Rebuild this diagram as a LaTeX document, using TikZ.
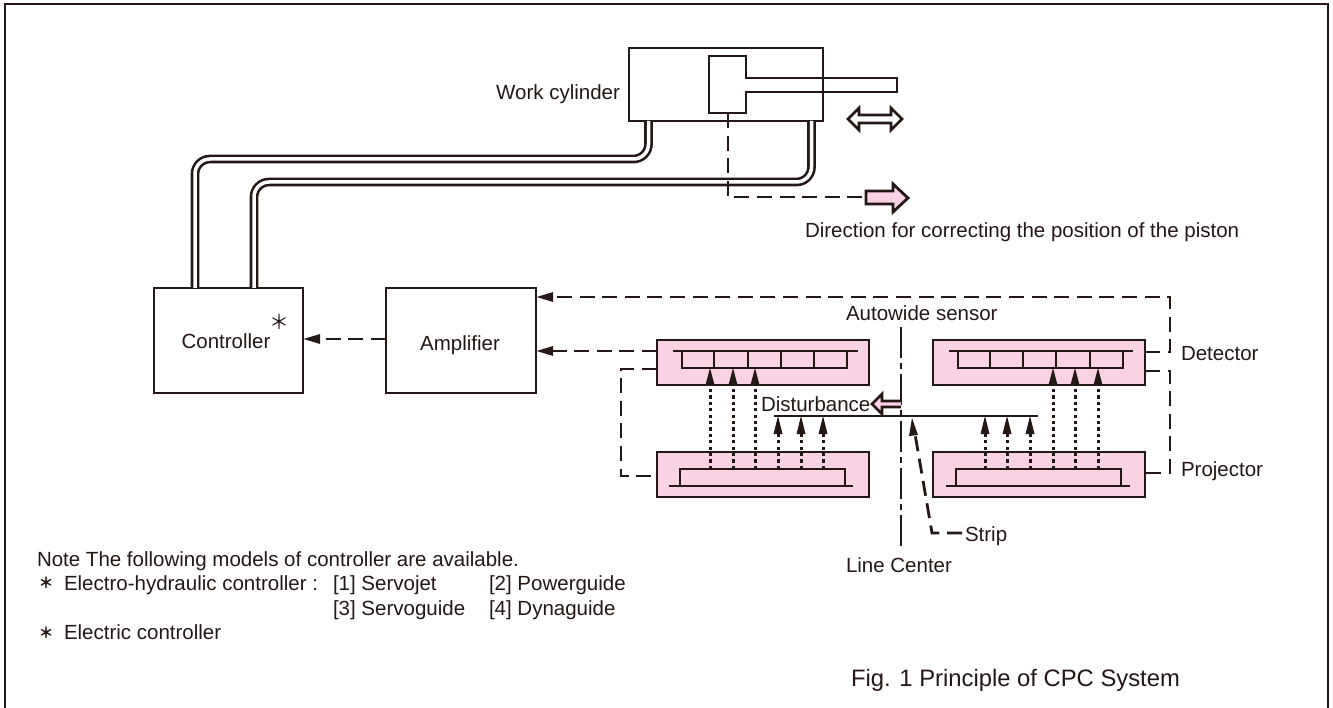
\documentclass[tikz,border=0pt]{standalone}
\usepackage{fontspec}
\setmainfont{Liberation Sans}
\newfontfamily\cjkstar{Noto Sans CJK JP}
\usetikzlibrary{arrows.meta}
\definecolor{ink}{HTML}{231815}
\definecolor{pinkf}{HTML}{F9D3E4}
\tikzset{
  every node/.style={text=ink,inner sep=0pt,outer sep=0pt},
  txt/.style={font=\fontsize{20.5}{24}\selectfont,anchor=west},
  capt/.style={font=\fontsize{23.8}{28}\selectfont,anchor=west},
  wbox/.style={draw=ink,line width=2.8pt,anchor=north west,fill=white},
  pbox/.style={draw=ink,line width=2.8pt,anchor=north west,fill=pinkf},
  bar/.style={draw=ink,line width=2.6pt,anchor=north west},
  ln/.style={draw=ink,line width=2.8pt},
  thin2/.style={draw=ink,line width=2.2pt},
  dsh/.style={draw=ink,line width=2.8pt,dash pattern=on 15pt off 7.6pt},
  tipd/.style={-{Triangle[length=17pt,width=9pt,color=ink]}},
  dots/.style={draw=ink,line width=3pt,dash pattern=on 3.2pt off 3.2pt},
  pipe/.style={draw=ink,line width=2.6pt,double=white,double distance=3.5pt,rounded corners=15pt},
  blockarrow/.style={draw=ink,line width=2.8pt,line join=miter},
  starb/.style={font=\cjkstar\fontsize{20}{20}\selectfont},
  stars/.style={font=\cjkstar\bfseries\fontsize{15}{15}\selectfont},
}
\begin{document}
\begin{tikzpicture}[x=1pt,y=-1pt]
\useasboundingbox (0,0) rectangle (1333,708);
\draw[ink,line width=1.5pt] (5,708) -- (5,4) -- (1328,4) -- (1328,708);
% cylinder
\node[wbox,minimum width=194pt,minimum height=73pt] (cyl) at (629,48) {};
\node[wbox,minimum width=149pt,minimum height=105pt] (ctrl) at (154,288) {};
\node[wbox,minimum width=150pt,minimum height=105pt] (amp) at (386,288) {};
\node[txt,anchor=center] (ctrlt) at (226,341) {Controller};
\node[txt,anchor=center] (ampt) at (460,345) {Amplifier};
\node[starb] (star) at (279,322) {＊};
% pipes
\coordinate (p1a) at (195,288); \coordinate (p1b) at (648.5,121);
\coordinate (p2a) at (254,288); \coordinate (p2b) at (811.5,121);
\draw[pipe] (p1a) -- (195,159) -- (648.5,159) -- (p1b);
\draw[pipe] (p2a) -- (254,182) -- (811.5,182) -- (p2b);
% piston
\draw[ln,line join=miter] (709,56) -- (746,56) -- (746,78) -- (897,78) -- (897,92) -- (746,92) -- (746,113) -- (709,113) -- cycle;
\coordinate (pist) at (728,113);
% double arrow
\draw[blockarrow,fill=white] (848,119) -- (859,108) -- (859,115) -- (891,115) -- (891,108) -- (902,119) -- (891,130) -- (891,123) -- (859,123) -- (859,130) -- cycle;
% correction arrow
\node[inner sep=0pt,minimum size=0pt] (corr) at (866,197) {};
\draw[dsh] (pist) -- (728,197) -- (corr);
\draw[blockarrow,fill=pinkf] (866,191) -- (893,191) -- (893,184) -- (908,198) -- (893,212) -- (893,204) -- (866,204) -- cycle;
\node[txt] (dirt) at (805,232) {Direction for correcting the position of the piston};
\node[txt,anchor=east] (workt) at (620,94) {Work cylinder};
% sensor boxes
\node[pbox,minimum width=212pt,minimum height=45pt] (dL) at (657,340) {};
\node[pbox,minimum width=212pt,minimum height=45pt] (dR) at (933,340) {};
\node[pbox,minimum width=212pt,minimum height=45pt] (pL) at (657,452) {};
\node[pbox,minimum width=212pt,minimum height=45pt] (pR) at (933,452) {};
% detector bars
\node[bar,minimum width=165pt,minimum height=17pt] (dLb) at (682,351) {};
\node[bar,minimum width=165pt,minimum height=17pt] (dRb) at (958,351) {};
\draw[thin2] (673,351) -- (858,351);
\draw[thin2] (949,351) -- (1133,351);
\foreach \x in {714,748,781,814} \draw[thin2] (\x,351) -- (\x,368);
\foreach \x in {990,1023,1056,1090} \draw[thin2] (\x,351) -- (\x,368);
% projector bars
\node[bar,minimum width=165pt,minimum height=17pt] (pLb) at (680,469) {};
\node[bar,minimum width=165pt,minimum height=17pt] (pRb) at (956,469) {};
\draw[thin2] (669,486) -- (853,486);
\draw[thin2] (946,486) -- (1130,486);
% strip
\coordinate (sL) at (774,416); \coordinate (sR) at (1038,416);
\draw[ln] (sL) -- (sR);
% light rays
\foreach \x in {710,733,755} {
  \draw[dots] (\x,469 |- pLb.north) -- (\x,383);
  \draw[draw=none,fill=ink] (\x,368) -- (\x+4.5,385) -- (\x-4.5,385) -- cycle;
}
\foreach \x in {1053,1075,1098} {
  \draw[dots] (\x,469 |- pRb.north) -- (\x,383);
  \draw[draw=none,fill=ink] (\x,368) -- (\x+4.5,385) -- (\x-4.5,385) -- cycle;
}
\foreach \x in {778,801,823,985,1007,1030} {
  \draw[dots] (\x,469) -- (\x,432);
  \draw[draw=none,fill=ink] (\x,416) -- (\x+4.5,434) -- (\x-4.5,434) -- cycle;
}
% signal lines
\draw[dsh,tipd] (amp.west |- 0,339) -- (ctrl.east |- 0,339);
\draw[dsh,tipd] (dL.west |- 0,351) -- (amp.east |- 0,351);
\draw[dsh,tipd] (dR.east |- 0,352) -- (1170,352) -- (1170,297) -- (amp.east |- 0,297);
\draw[dsh] (dL.west |- 0,369) -- (621,369) -- (621,476) -- (pL.west |- 0,476);
\draw[dsh] (dR.east |- 0,371) -- (1170,371) -- (1170,473) -- (pR.east |- 0,473);
% center line
\coordinate (lc1) at (901,327); \coordinate (lc2) at (901,548);
\draw[ink,line width=2.6pt,dash pattern=on 31pt off 5pt on 6pt off 5pt] (lc1) -- (lc2);
% disturbance arrow
\draw[blockarrow,fill=pinkf] (901,401) -- (882,401) -- (882,394) -- (872,404) -- (882,414) -- (882,407) -- (901,407);
\node[txt] (dist) at (761,404) {Disturbance};
% strip leader
\node[txt] (stript) at (965,536) {Strip};
\coordinate (elb) at (932,533);
\coordinate (stl) at (962,533);
\draw[dsh,line join=miter] (stl) -- (elb) -- (915,434);
\draw[draw=none,fill=ink] (912,418) -- (918,435) -- (909,436) -- cycle;
% labels
\node[txt] (auto) at (846,313) {Autowide sensor};
\node[txt] (dett) at (1181,354) {Detector};
\node[txt] (prot) at (1181,471) {Projector};
\node[txt] (lct) at (846,565) {Line Center};
\node[txt] (n0) at (37,561) {Note The following models of controller are available.};
\node[txt] (n1) at (64,585) {Electro-hydraulic controller :};
\node[txt] (n2) at (333,585) {[1] Servojet};
\node[txt] (n3) at (489,585) {[2] Powerguide};
\node[txt] (n4) at (333,610) {[3] Servoguide};
\node[txt] (n5) at (489,610) {[4] Dynaguide};
\node[txt] (n6) at (64,632) {Electric controller};
\node[stars] (s1) at (46,583) {＊};
\node[stars] (s2) at (46,633) {＊};
\node[capt] (figc) at (851,680) {Fig. 1 Principle of CPC System};
\end{tikzpicture}
\end{document}
